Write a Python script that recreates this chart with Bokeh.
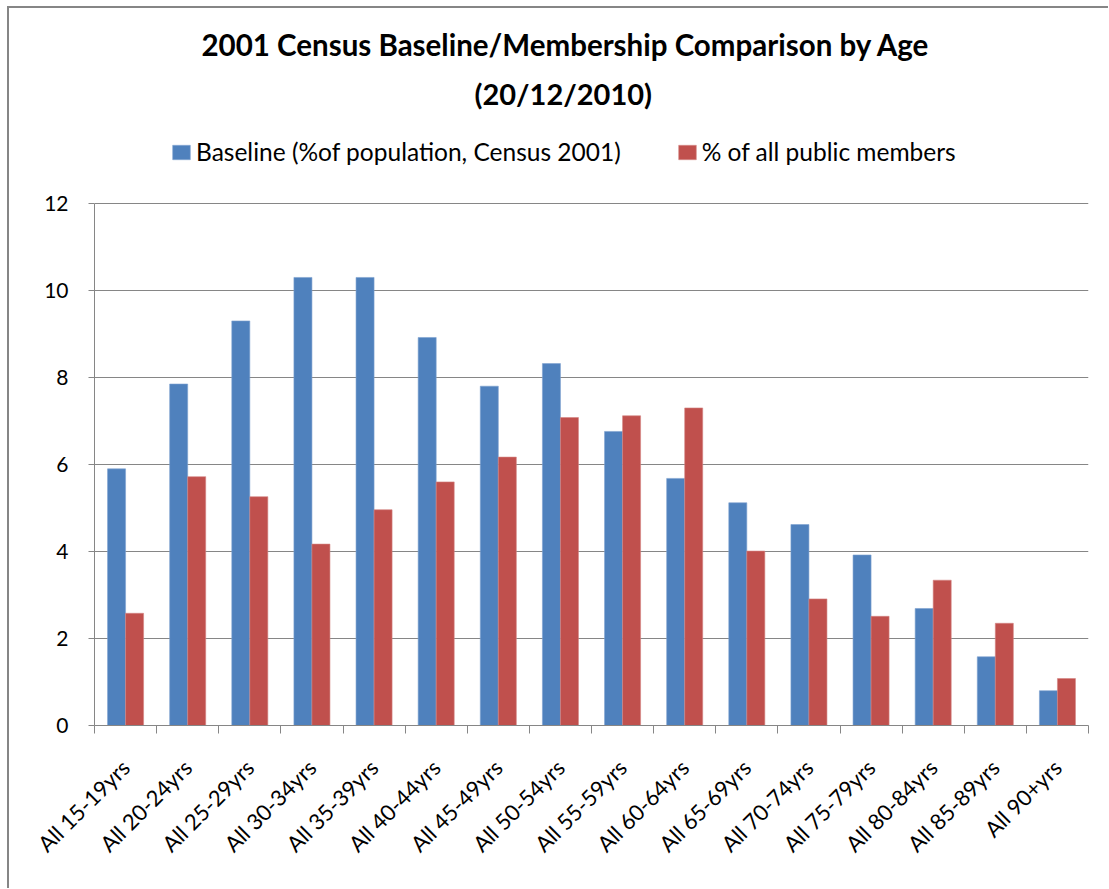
from math import pi

from bokeh.embed import file_html
from bokeh.models import (ColumnDataSource, FixedTicker, Legend, LegendItem,
                          Range1d, Title)
from bokeh.plotting import figure
from bokeh.resources import INLINE
from bokeh.transform import dodge

# Age bands and the two series (% of total)
age_groups = ["All 15-19yrs", "All 20-24yrs", "All 25-29yrs", "All 30-34yrs",
              "All 35-39yrs", "All 40-44yrs", "All 45-49yrs", "All 50-54yrs",
              "All 55-59yrs", "All 60-64yrs", "All 65-69yrs", "All 70-74yrs",
              "All 75-79yrs", "All 80-84yrs", "All 85-89yrs", "All 90+yrs"]
baseline = [5.9, 7.85, 9.3, 10.3, 10.3, 8.92, 7.8, 8.32,
            6.76, 5.68, 5.12, 4.62, 3.92, 2.69, 1.58, 0.8]
members = [2.58, 5.72, 5.26, 4.17, 4.96, 5.6, 6.17, 7.08,
           7.12, 7.3, 4.01, 2.91, 2.51, 3.34, 2.35, 1.08]
y_ticks = [0, 2, 4, 6, 8, 10, 12]

series_names = ["Baseline (%of population, Census 2001)", "% of all public members"]
title_lines = ["2001 Census Baseline/Membership Comparison by Age", "(20/12/2010)"]

BLUE = "#4F81BD"
RED = "#C0504D"
GREY = "#868686"
FONT = "Lato"

n = len(age_groups)
centres = [i + 0.5 for i in range(n)]          # one unit per age band
edges = list(range(n + 1))                      # band boundaries

# the plotting frame reaches above the value axis so the legend row fits in it
axis_top = y_ticks[-1]
grid_px = 522          # height of the 0..12 value area
frame_px = 605         # frame height including the legend strip
y_max = axis_top * frame_px / grid_px

src = ColumnDataSource(dict(pos=centres, age=age_groups,
                            baseline=baseline, members=members))

p = figure(
    x_range=Range1d(0, n),
    y_range=Range1d(0, y_max),
    width=1101, height=882,
    output_backend="svg", toolbar_location=None,
    min_border_left=85, min_border_right=22,
    min_border_top=112, min_border_bottom=165,
    background_fill_color="white", border_fill_color="white",
    outline_line_color=None,
)
p.title = None
p.styles = {"margin-left": "7px", "margin-top": "6px",
            "border-left": f"2px solid {GREY}", "border-top": f"2px solid {GREY}"}

bw = 0.29
r_base = p.vbar(x=dodge("pos", -bw / 2), top="baseline", width=bw,
                source=src, fill_color=BLUE, line_color="#7EA1D0", line_width=0.6)
r_mem = p.vbar(x=dodge("pos", bw / 2), top="members", width=bw,
               source=src, fill_color=RED, line_color="#D48583", line_width=0.6)

# y axis and horizontal gridlines
p.yaxis.ticker = FixedTicker(ticks=y_ticks)
p.yaxis.bounds = (0, axis_top)
p.yaxis.axis_line_color = GREY
p.yaxis.major_tick_line_color = GREY
p.yaxis.major_tick_in = 0
p.yaxis.major_tick_out = 6
p.yaxis.minor_tick_line_color = None
p.yaxis.major_label_text_font = FONT
p.yaxis.major_label_text_font_size = "21px"
p.yaxis.major_label_text_color = "black"
p.yaxis.major_label_standoff = 20
p.ygrid.grid_line_color = GREY
p.ygrid.grid_line_width = 1
p.xgrid.visible = False

# x axis: labels on the band centres, tick marks on the band boundaries
xa = p.xaxis[0]
xa.ticker = FixedTicker(ticks=centres, minor_ticks=edges)
xa.major_label_overrides = {c: a for c, a in zip(centres, age_groups)}
xa.axis_line_color = GREY
xa.major_tick_line_color = None
xa.minor_tick_line_color = GREY
xa.minor_tick_in = 0
xa.minor_tick_out = 8
xa.major_label_orientation = pi / 4
xa.major_label_text_font = FONT
xa.major_label_text_font_size = "22px"
xa.major_label_text_color = "black"
xa.major_label_standoff = 30

# legend row above the value area
legend = Legend(items=[LegendItem(label=series_names[0], renderers=[r_base]),
                       LegendItem(label=series_names[1], renderers=[r_mem])],
                orientation="horizontal", location=(76, 559),
                border_line_color=None, background_fill_alpha=0,
                glyph_width=22, glyph_height=18, label_standoff=4, spacing=55,
                label_text_font=FONT, label_text_font_size="24.5px",
                label_text_color="black", padding=0, margin=0)
p.add_layout(legend, "center")

p.add_layout(Title(text=title_lines[1], align="left", text_font=FONT,
                   text_font_size="29px", text_font_style="bold",
                   text_color="black", offset=380, standoff=20), "above")
p.add_layout(Title(text=title_lines[0], align="left", text_font=FONT,
                   text_font_size="29.5px", text_font_style="bold",
                   text_color="black", offset=107, standoff=4), "above")

open("out.html", "w").write(file_html(p, INLINE))
